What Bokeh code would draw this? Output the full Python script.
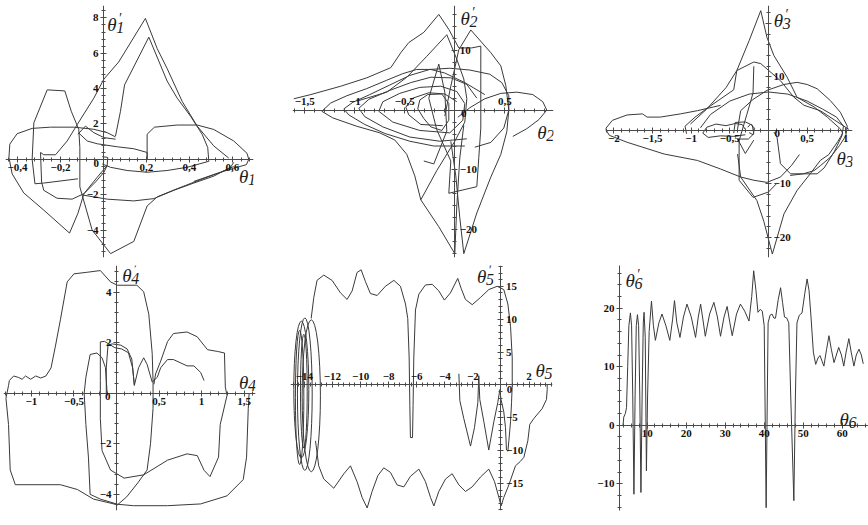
from bokeh.plotting import figure
from bokeh.layouts import column, row
from bokeh.models import LinearAxis, Range1d, SingleIntervalTicker, CustomJSTickFormatter, Label
from bokeh.embed import file_html
from bokeh.resources import INLINE

INK = "#3a3a3a"
AXIS = "#4a4a4a"
TICK_FONT = "Liberation Serif"
NAME_FONT = "Liberation Serif"

# ---------------- theta1 phase portrait ----------------
th1_outer = [(0.056, 1.27), (0.017, 1.51), (-0.045, 1.70), (-0.138, 1.82), (-0.247, 1.82), (-0.332, 1.75),
             (-0.402, 1.45), (-0.436, 0.86), (-0.440, 0.11), (-0.425, -0.82), (-0.371, -1.90), (-0.278, -2.87),
             (-0.158, -4.17), (-0.119, -3.05), (-0.091, -1.94), (-0.029, -1.01), (0.017, -0.35), (0.020, 0.11),
             (-0.006, 0.15)]
th1_hex = [(-0.119, -1.10), (-0.278, -1.34), (-0.319, -1.38), (-0.332, 0.0), (-0.324, 2.07), (-0.262, 3.93),
           (-0.180, 3.87), (-0.150, 2.72), (-0.115, 1.69), (-0.110, 0.67), (-0.110, -1.56), (-0.053, -3.99),
           (0.033, -5.33), (0.141, -4.64), (0.203, -2.64), (0.250, -2.12), (0.343, -1.66), (0.451, -1.15),
           (0.544, -0.73), (0.606, -0.41)]
th1_peak8 = [(0.017, -0.35), (0.002, -0.73), (-0.037, -1.28), (-0.091, -1.94), (-0.146, -2.25), (-0.216, -2.20),
             (-0.278, -1.75), (-0.288, -1.28), (-0.293, 0.39), (-0.278, 0.26), (-0.223, 0.26), (-0.169, 1.04),
             (-0.122, 1.97), (-0.045, 3.46), (0.002, 4.54), (0.071, 5.51), (0.195, 7.97), (0.250, 6.26),
             (0.296, 5.14), (0.366, 3.28), (0.436, 1.88), (0.513, 0.76), (0.583, 0.07)]
th1_peak7 = [(0.056, 1.32), (0.079, 2.72), (0.098, 4.21), (0.211, 6.91), (0.296, 4.43), (0.343, 3.46),
             (0.405, 2.44), (0.459, 1.42), (0.485, 0.67), (0.490, -0.11), (0.389, -0.45), (0.296, -0.63),
             (0.203, -0.73), (0.110, -0.63), (0.033, -0.45), (-0.006, -0.26)]
th1_low = [(-0.091, -2.03), (0.017, -2.25), (0.141, -2.35), (0.234, -2.22), (0.327, -1.75), (0.420, -1.34),
           (0.513, -0.95), (0.591, -0.45), (0.606, -0.17)]
th1_right = [(0.203, 0.0), (0.203, 1.42), (0.237, 1.82), (0.343, 1.94), (0.436, 1.94), (0.513, 1.69),
             (0.606, 1.04), (0.668, 0.34), (0.676, 0.0), (0.665, -0.30), (0.606, -0.50), (0.513, -0.86),
             (0.420, -1.25)]
th1_cusp = [(-0.119, 1.42), (-0.084, 1.88), (-0.045, 1.51), (0.002, 1.23), (0.056, 1.14)]
th1_inner = [(-0.115, 1.49), (-0.076, 1.04), (-0.029, 0.88), (0.064, 0.71), (0.141, 0.60), (0.203, 0.39),
             (0.203, 0.0)]
th1_curves = [th1_outer, th1_hex, th1_peak8, th1_peak7, th1_low, th1_right, th1_cusp, th1_inner]

# ---------------- theta2 phase portrait ----------------
th2_edge = [(-1.61, 1.9), (-1.44, 2.6), (-1.14, 4.0), (-0.88, 5.4), (-0.64, 7.1), (-0.54, 9.6), (-0.46, 11.3),
            (-0.31, 13.0), (-0.16, 16.0), (-0.06, 13.5), (0.04, 10.4), (0.17, 10.4), (0.26, 10.7), (0.26, 3.0),
            (0.26, -3.0), (0.24, -7.9), (0.22, -12.8), (-0.06, -13.9), (-0.04, -8.5), (-0.18, -3.3),
            (-0.26, 2.0), (-0.16, 7.7), (-0.10, 3.0), (-0.08, -3.5), (-0.21, -9.0), (-0.31, -8.5)]
th2_side = [(-0.10, -1.0), (-0.04, 4.0), (0.04, 10.1), (0.16, 13.4), (0.36, 9.6), (0.46, 7.4), (0.51, 4.1),
            (0.54, 0.0), (0.52, -3.6), (0.46, -7.4), (0.36, -11.2), (0.22, -17.2), (0.09, -24.0),
            (0.05, -18.0), (0.01, -11.0), (-0.04, -5.2)]
th2_peak = [(-0.98, 1.5), (-0.68, 3.0), (-0.48, 5.5), (-0.28, 9.0), (-0.08, 12.6), (0.02, 8.5), (0.09, 5.2),
            (0.12, 1.9), (0.10, -2.0), (0.0, -5.2), (-0.18, -10.1), (-0.34, -15.0)]
th2_lobe1 = [(0.30, 2.6), (0.10, 4.6), (-0.10, 6.2), (-0.24, 6.8), (-0.38, 6.8), (-0.52, 6.1), (-0.68, 5.0),
             (-0.88, 3.6), (-1.08, 2.4), (-1.24, 1.2), (-1.33, -0.2), (-1.22, -1.3), (-0.98, -2.7),
             (-0.75, -3.8), (-0.60, -5.0), (-0.48, -7.4), (-0.40, -11.0), (-0.34, -15.0), (-0.16, -19.5),
             (0.0, -24.0), (0.02, -16.0), (0.05, -8.0), (0.09, -2.5)]
th2_lobe2 = [(0.10, -6.0), (-0.21, -6.0), (-0.45, -5.2), (-0.70, -3.9), (-0.90, -2.4), (-1.06, -0.8),
             (-1.11, 0.2), (-1.02, 1.3), (-0.85, 2.6), (-0.65, 4.2), (-0.45, 5.8), (-0.25, 6.8), (-0.05, 7.0),
             (0.15, 6.7), (0.35, 6.0), (0.47, 4.6), (0.54, 2.4), (0.54, 0.0), (0.49, -3.0), (0.36, -5.4),
             (0.20, -6.2)]
th2_lobe3 = [(0.12, -4.8), (-0.15, -5.2), (-0.45, -4.5), (-0.72, -2.8), (-0.90, -1.1), (-0.96, 0.3),
             (-0.86, 1.8), (-0.65, 3.3), (-0.44, 4.6), (-0.24, 5.5), (-0.04, 5.4), (0.12, 4.3), (0.22, 2.0)]
th2_lobe4 = [(-0.05, -3.8), (-0.35, -3.4), (-0.62, -2.0), (-0.76, -0.2), (-0.72, 1.4), (-0.55, 2.8),
             (-0.35, 3.8), (-0.14, 4.0), (0.02, 3.1), (0.10, 1.1), (0.08, -1.7), (-0.05, -3.8)]
th2_lobe5 = [(-0.12, -2.6), (-0.34, -2.4), (-0.46, -0.8), (-0.49, 0.5), (-0.42, 2.0), (-0.26, 2.9),
             (-0.10, 2.7), (0.02, 1.4)]
th2_lobe6 = [(-0.37, 0.2), (-0.35, 1.7), (-0.27, 2.6), (-0.13, 2.7), (-0.06, 1.1), (-0.06, -1.7),
             (-0.13, -3.4), (-0.24, -2.8), (-0.31, -1.4), (-0.37, 0.2)]
th2_tail = [(0.03, -1.2), (0.15, 0.4), (0.30, 1.9), (0.46, 2.8), (0.62, 3.0), (0.78, 2.6), (0.88, 1.4),
            (0.92, 0.0), (0.84, -1.6), (0.72, -3.1), (0.58, -4.4)]
th2_curves = [th2_edge, th2_side, th2_peak, th2_lobe1, th2_lobe2, th2_lobe3, th2_lobe4, th2_lobe5,
              th2_lobe6, th2_tail]

# ---------------- theta3 phase portrait ----------------
th3_tail = [(-0.62, 4.7), (-0.71, 4.4), (-0.92, 3.7), (-1.14, 3.1), (-1.40, 2.5), (-1.57, 2.5), (-1.63, 3.1),
            (-1.83, 2.9), (-2.02, 1.9), (-2.11, 0.3), (-2.06, -0.9), (-1.83, -2.2), (-1.35, -4.4),
            (-0.92, -5.6), (-0.62, -7.2), (-0.36, -8.7), (-0.19, -9.3), (-0.02, -9.7), (0.155, -8.7),
            (0.30, -6.5), (0.40, -4.5)]
th3_spike = [(-1.06, -0.6), (-1.08, 0.8), (-0.95, 2.5), (-0.75, 4.6), (-0.45, 7.6), (-0.41, 11.2),
             (-0.25, 16.8), (-0.10, 22.4), (-0.02, 17.4), (0.07, 14.0), (0.24, 10.0), (0.37, 6.2),
             (0.59, 4.4), (0.76, 2.5), (0.93, 0.3), (0.96, -0.5), (0.90, -2.0), (0.78, -4.5), (0.67, -5.6),
             (0.54, -8.1), (0.37, -11.2), (0.20, -15.6), (0.05, -23.1), (-0.06, -17.0), (-0.15, -13.1),
             (-0.36, -8.7), (-0.40, -4.4)]
th3_loop = [(-0.40, 0.3), (-0.36, 3.7), (-0.20, 5.8), (-0.02, 7.5), (0.20, 8.6), (0.37, 9.0), (0.50, 8.6),
            (0.63, 7.8), (0.80, 5.6), (0.93, 3.4), (1.02, 0.8), (1.00, -1.0), (0.92, -2.8), (0.80, -5.0),
            (0.67, -6.6), (0.59, -7.5), (0.45, -8.1), (0.28, -8.4)]
th3_small_a = [(-0.30, -0.8), (-0.45, -1.1), (-0.62, -1.0), (-0.78, -1.3), (-0.85, -0.5), (-0.80, 0.6),
               (-0.68, 1.2), (-0.55, 0.9), (-0.43, 1.3), (-0.34, 1.1), (-0.30, 0.2)]
th3_small_b = [(-0.45, -0.5), (-0.43, 1.5), (-0.30, 1.6), (-0.21, 1.0), (-0.19, -0.6), (-0.26, -1.6),
               (-0.40, -1.6), (-0.30, -4.3), (-0.19, -1.8)]
th3_small_c = [(-0.27, 0.6), (-0.23, 1.2), (-0.18, 0.4), (-0.20, -0.8), (-0.25, -0.4)]
th3_mid = [(-1.01, 1.2), (-0.80, 4.0), (-0.55, 8.0), (-0.41, 11.2), (-0.19, 12.8), (-0.10, 12.5),
           (0.155, 9.3), (0.33, 6.2), (0.46, 4.7), (0.67, 3.7), (0.85, 2.0), (1.04, 0.2)]
th3_step = [(-0.19, 12.0), (-0.20, 7.0), (-0.28, 3.0), (-0.38, -1.9), (-0.38, -9.3), (-0.20, -12.5),
            (0.0, -11.5), (0.10, -10.0)]
th3_right = [(0.07, -0.3), (0.11, -1.2), (0.155, -6.2), (0.285, -8.1), (0.63, -8.1), (0.72, -7.0),
             (0.85, -4.0), (0.95, -1.0), (0.97, 0.8), (0.88, 2.5), (0.70, 4.0), (0.50, 5.5), (0.25, 6.8),
             (0.0, 7.2), (-0.25, 6.8), (-0.50, 5.5), (-0.75, 3.0), (-0.88, 0.5)]
th3_curves = [th3_tail, th3_spike, th3_loop, th3_small_a, th3_small_b, th3_small_c, th3_mid, th3_step,
              th3_right]

# ---------------- theta4 phase portrait ----------------
th4_top = [(-1.27, 0.3), (-1.26, 0.5), (-1.21, 0.68), (-1.15, 0.62), (-1.11, 0.55), (-1.07, 0.68),
           (-1.01, 0.55), (-0.95, 0.68), (-0.89, 0.60), (-0.83, 0.68), (-0.77, 1.0), (-0.72, 1.83),
           (-0.66, 2.9), (-0.58, 4.40), (-0.50, 4.72), (-0.35, 4.78), (-0.19, 4.85), (-0.07, 4.40),
           (0.01, 4.27), (0.24, 4.27), (0.32, 4.01), (0.38, 3.12), (0.42, 1.58), (0.43, 0.49), (0.43, -0.6),
           (0.40, -2.0), (0.36, -3.04), (0.25, -3.55), (0.12, -4.1), (0.0, -4.45)]
th4_bottom = [(-1.27, 0.3), (-1.30, -0.2), (-1.27, -1.24), (-1.25, -3.04), (-1.19, -3.62), (-0.66, -3.62),
              (-0.46, -3.81), (-0.27, -4.19), (-0.03, -4.38), (0.20, -4.45), (0.60, -4.45), (0.99, -4.38),
              (1.30, -4.06), (1.49, -3.42), (1.53, -2.53), (1.55, -0.6), (1.56, 0.0)]
th4_dips = [(-0.12, 0.0), (-0.12, 1.0), (-0.10, 1.9), (-0.05, 1.95), (0.05, 1.9), (0.125, 1.75),
            (0.18, 1.35), (0.21, 0.31), (0.26, 1.01), (0.32, 1.40), (0.36, 1.14), (0.42, 0.44), (0.48, 0.63),
            (0.52, 1.01), (0.60, 1.33), (0.67, 1.33), (0.83, 1.08), (0.91, 1.08), (0.99, 0.82), (1.03, 0.5)]
th4_loop = [(0.44, 0.35), (0.46, 0.76), (0.52, 1.27), (0.60, 2.04), (0.67, 2.36), (0.83, 2.42), (0.95, 2.23),
            (1.07, 1.72), (1.19, 1.65), (1.27, 1.59), (1.28, 0.24), (1.30, -0.09), (1.22, -1.24),
            (1.20, -2.53), (1.10, -3.30), (1.03, -3.05), (0.95, -2.47), (0.83, -2.40), (0.60, -2.65),
            (0.32, -3.23), (0.09, -3.36), (-0.07, -3.04), (-0.17, -2.27), (-0.19, -1.0), (-0.19, 0.5),
            (-0.19, 2.03), (-0.14, 2.05), (-0.02, 1.8), (0.06, 1.75), (0.14, 1.6), (0.19, 1.0), (0.21, 0.31)]
th4_hump = [(-0.11, 0.0), (-0.13, 1.01), (-0.17, 1.40), (-0.23, 1.59), (-0.31, 1.53), (-0.36, 0.63),
            (-0.38, 0.0), (-0.36, -1.24), (-0.33, -2.53), (-0.31, -4.0), (-0.19, -4.19), (0.0, -4.38)]
th4_curves = [th4_top, th4_bottom, th4_dips, th4_loop, th4_hump]

# ---------------- theta5 phase portrait ----------------
th5_top = [(-13.52, 10.1), (-13.33, 13.3), (-13.1, 15.9), (-12.62, 16.7), (-12.03, 15.9), (-11.43, 14.0),
           (-10.96, 13.0), (-10.6, 14.3), (-10.25, 17.1), (-9.96, 17.5), (-9.65, 15.7), (-9.3, 13.9),
           (-8.82, 13.6), (-8.23, 15.0), (-7.63, 15.9), (-7.16, 15.0), (-6.8, 12.3), (-6.64, 10.1),
           (-6.54, 4.1), (-6.49, -3.1), (-6.45, -8.0), (-6.30, -8.0), (-6.26, -3.1), (-6.21, 4.1),
           (-6.09, 11.4), (-5.85, 13.8), (-5.38, 15.2), (-4.9, 15.3), (-4.43, 14.3), (-4.03, 12.9),
           (-3.6, 14.0), (-3.08, 16.2), (-2.84, 14.7), (-2.53, 13.0), (-2.05, 12.2), (-1.46, 13.3),
           (-0.87, 14.5), (-0.27, 15.0), (0.2, 14.5), (0.49, 12.3), (0.68, 8.9), (0.8, 4.1), (0.8, 0.0),
           (0.75, -2.7), (0.68, -5.6), (0.56, -8.5), (0.49, -10.1)]
th5_bottom = [(-13.21, -8.5), (-12.98, -12.3), (-12.62, -14.3), (-11.91, -15.7), (-11.19, -13.5),
              (-10.72, -12.3), (-10.25, -14.7), (-9.89, -17.1), (-9.53, -18.7), (-9.18, -16.2),
              (-8.77, -13.8), (-8.35, -12.6), (-7.87, -13.3), (-7.4, -15.2), (-6.92, -15.5), (-6.45, -13.9),
              (-5.85, -12.8), (-5.38, -14.7), (-5.02, -17.1), (-4.78, -18.4), (-4.43, -16.2),
              (-3.95, -14.3), (-3.48, -13.5), (-3.0, -15.2), (-2.53, -16.2), (-2.05, -15.5),
              (-1.46, -14.0), (-0.87, -12.8), (-0.46, -14.7), (-0.15, -17.1), (0.01, -18.4), (0.2, -17.1),
              (0.56, -15.2), (1.03, -12.3), (1.39, -11.6), (1.63, -11.0), (1.91, -8.5), (2.05, -6.0),
              (2.34, -5.1), (2.93, -3.6), (3.24, -2.2), (3.29, -0.7), (3.29, 0.0)]
th5_dips = [(-3.0, 1.7), (-2.93, -2.4), (-2.65, -5.1), (-2.17, -9.3), (-1.89, -6.5), (-1.65, -2.7),
            (-1.58, 1.4), (-1.51, -2.2), (-1.22, -5.6), (-0.87, -9.9), (-0.51, -5.6), (-0.23, -2.7),
            (-0.08, -0.7), (0.0, -2.2), (0.2, -4.1), (0.32, -6.5), (0.39, -9.9)]
th5_curves = [th5_top, th5_bottom, th5_dips]
# tight oscillation loops near theta5 = -14: centre, width, height
th5_loop_x = [-14.22, -13.97, -13.51, -14.04, -14.34]
th5_loop_y = [-0.7, -1.4, -1.65, -0.95, -1.9]
th5_loop_w = [1.07, 1.05, 1.30, 0.48, 0.60]
th5_loop_h = [20.8, 23.2, 23.1, 17.3, 20.4]

# ---------------- theta6 phase portrait ----------------
th6_x = [3.8, 4.0, 4.4, 4.7, 5.0, 5.3, 5.7, 6.0, 6.3, 6.6, 6.9, 7.2, 7.5, 7.8, 8.1, 8.4, 8.7, 9.0, 9.2, 9.5,
         9.8, 10.1, 10.5, 11.1, 11.6, 12.1, 13.0, 13.8, 14.8, 15.8, 16.5, 17.0, 17.6, 18.4, 19.3, 20.2, 21.3,
         22.4, 23.1, 23.7, 24.3, 24.9, 26.0, 27.1, 28.0, 28.8, 29.7, 30.5, 31.2, 31.8, 32.9, 33.9, 35.0,
         36.1, 36.8, 37.3, 37.9, 38.4, 39.0, 39.5, 40.0, 40.2, 40.5, 40.8, 41.0, 41.5, 42.0, 42.5, 42.9,
         43.6, 44.2, 44.7, 45.2, 45.8, 46.3, 46.8, 47.6, 48.0, 48.4, 49.0, 49.7, 50.4, 51.0, 51.5, 52.0,
         52.6, 53.2, 53.8, 54.3, 54.8, 55.3, 56.0, 56.6, 57.2, 57.9, 58.5, 59.1, 59.8, 60.4, 61.0, 61.7,
         62.3, 63.0, 63.6, 64.3, 64.9, 65.4]
th6_v = [0.0, 1.4, 2.0, 3.0, 10.0, 17.0, 19.2, 17.0, 5.0, -11.8, 5.0, 17.0, 18.9, 17.0, 5.0, -11.5, 5.0,
         17.5, 19.3, 15.0, -7.8, 5.0, 16.0, 21.2, 17.0, 14.5, 17.5, 19.0, 17.0, 14.5, 18.0, 21.3, 17.5, 15.0,
         18.5, 20.7, 18.5, 15.0, 18.5, 20.7, 18.0, 15.2, 19.0, 21.0, 18.5, 15.2, 18.5, 20.3, 17.5, 15.3,
         19.0, 20.7, 19.5, 17.8, 22.0, 26.4, 23.0, 19.3, 19.8, 19.5, 17.0, 5.0, -14.1, 5.0, 17.5, 18.8,
         19.0, 18.3, 18.3, 21.5, 23.5, 21.0, 18.5, 18.3, 17.5, 5.0, -12.9, 5.0, 17.5, 18.8, 19.2, 22.5,
         25.0, 23.0, 18.5, 12.5, 10.4, 11.5, 11.9, 11.0, 10.1, 13.0, 15.3, 13.0, 10.7, 12.0, 13.3, 12.0,
         10.1, 12.5, 14.8, 12.5, 10.1, 12.0, 13.0, 12.0, 10.5]


def tick_text(hidden):
    # decimal comma, true minus sign, selected values left blank
    return CustomJSTickFormatter(args=dict(hidden=hidden), code="""
        for (const h of hidden) { if (Math.abs(tick - h) < 1e-9) return ""; }
        const r = Math.round(tick * 100) / 100;
        const s = Math.abs(r).toString().replace(".", ",");
        return r < 0 ? "\u2212" + s : s;
    """)


def style_axis(ax):
    ax.axis_line_color = AXIS
    ax.axis_line_width = 1
    ax.major_tick_line_color = AXIS
    ax.minor_tick_line_color = AXIS
    ax.major_tick_in = 3
    ax.major_tick_out = 3
    ax.minor_tick_in = 2
    ax.minor_tick_out = 2
    ax.major_label_standoff = 2
    ax.major_label_text_font = TICK_FONT
    ax.major_label_text_font_style = "bold"
    ax.major_label_text_font_size = "11px"
    ax.major_label_text_color = "#111111"


def make_panel(w, h, borders, xr, yr, xside, yside, xstep, ystep, y_through_origin=True,
               xhide=(0.0,), yhide=(0.0,)):
    left, right, top, bottom = borders
    p = figure(width=w, height=h, x_range=Range1d(*xr), y_range=Range1d(*yr),
               x_axis_location=None, y_axis_location=None, toolbar_location=None,
               output_backend="svg", title=None,
               min_border_left=left, min_border_right=right,
               min_border_top=top, min_border_bottom=bottom)
    p.outline_line_color = None
    p.background_fill_color = "white"
    p.border_fill_color = "white"
    p.xgrid.visible = False
    p.ygrid.visible = False
    xa = LinearAxis(fixed_location=0.0,
                    ticker=SingleIntervalTicker(interval=xstep, num_minor_ticks=5),
                    formatter=tick_text(list(xhide)))
    ya = LinearAxis(ticker=SingleIntervalTicker(interval=ystep, num_minor_ticks=5),
                    formatter=tick_text(list(yhide)))
    if y_through_origin:
        ya.fixed_location = 0.0
    style_axis(xa)
    style_axis(ya)
    p.add_layout(xa, xside)
    p.add_layout(ya, yside)
    return p


def draw_curves(p, curves):
    p.multi_line(xs=[[pt[0] for pt in c] for c in curves],
                 ys=[[pt[1] for pt in c] for c in curves],
                 line_color=INK, line_width=1)


def axis_name(p, x, y, digit, prime=False):
    common = dict(x=x, y=y, x_units="data", y_units="data", text_font=NAME_FONT,
                  text_font_style="italic", text_color="#1e1e1e",
                  text_baseline="top", text_align="left")
    p.add_layout(Label(text="θ", text_font_size="19px", y_offset=4, **common))
    p.add_layout(Label(text=digit, text_font_size="16px", x_offset=9, y_offset=-4, **common))
    if prime:
        p.add_layout(Label(text="′", text_font_size="14px", x_offset=11, y_offset=7, **common))


def origin_zero(p, x, y):
    p.add_layout(Label(x=x, y=y, text="0", text_font=TICK_FONT, text_font_style="bold",
                       text_font_size="11px", text_color="#111111",
                       text_align="center", text_baseline="middle"))


# panel layout: (left, right, top, bottom) borders position each plotting frame
p1 = make_panel(290, 262, (5, 37, 3, 4), (-0.456, 0.698), (-5.55, 8.70), "below", "left", 0.2, 2)
draw_curves(p1, th1_curves)
axis_name(p1, 0.630, -0.59, "1")
axis_name(p1, 0.017, 7.97, "1", prime=True)
origin_zero(p1, -0.034, -0.26)

p2 = make_panel(290, 262, (2, 27, 5, 0), (-1.623, 0.987), (-24.64, 17.49), "above", "right", 0.5, 10)
draw_curves(p2, th2_curves)
axis_name(p2, 0.824, -2.72, "2")
axis_name(p2, 0.057, 16.4, "2", prime=True)
origin_zero(p2, 0.09, -0.54)

p3 = make_panel(288, 262, (25, 16, 5, 5), (-2.109, 1.087), (-23.74, 23.36), "below", "right", 0.5, 10,
                yhide=(0.0, 20.0))
draw_curves(p3, th3_curves)
axis_name(p3, 0.88, -4.06, "3")
axis_name(p3, 0.069, 21.8, "3", prime=True)
origin_zero(p3, 0.112, -0.62)

p4 = make_panel(290, 263, (3, 35, 3, 8), (-1.329, 1.635), (-4.64, 5.05), "below", "left", 0.5, 2)
draw_curves(p4, th4_curves)
axis_name(p4, 1.44, 0.68, "4")
axis_name(p4, 0.067, 4.91, "4", prime=True)
origin_zero(p4, -0.102, -0.115)

p5 = make_panel(290, 263, (0, 28, 3, 3), (-14.99, 3.668), (-19.09, 18.16), "above", "right", 2, 5)
draw_curves(p5, th5_curves)
p5.ellipse(x=th5_loop_x, y=th5_loop_y, width=th5_loop_w, height=th5_loop_h,
           fill_color=None, line_color=INK, line_width=1)
axis_name(p5, 2.45, 3.13, "5")
axis_name(p5, -1.70, 17.4, "5", prime=True)
origin_zero(p5, 0.605, -0.72)

p6 = make_panel(288, 263, (39, 0, 3, 15), (2.90, 66.74), (-14.58, 27.3), "below", "left", 10, 10,
                y_through_origin=False, xhide=(), yhide=())
p6.line(th6_x, th6_v, line_color=INK, line_width=1)
axis_name(p6, 59.3, 2.17, "6")
axis_name(p6, 4.44, 25.8, "6", prime=True)

layout = column(row(p1, p2, p3), row(p4, p5, p6))

with open("out.html", "w") as f:
    f.write(file_html(layout, INLINE))
